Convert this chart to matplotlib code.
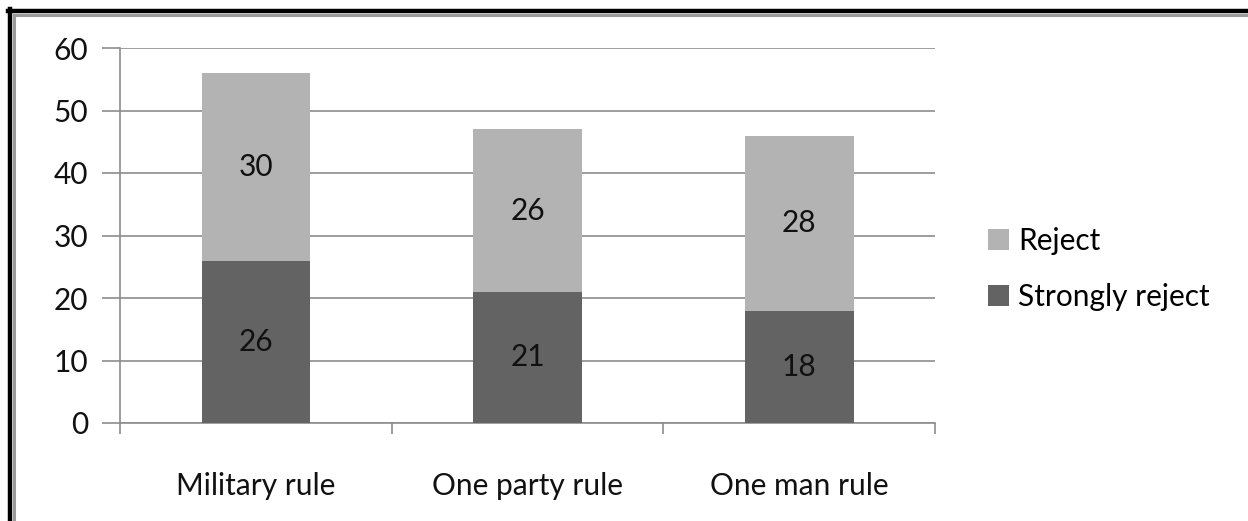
import matplotlib
matplotlib.use("Agg")
import matplotlib.pyplot as plt
from matplotlib.lines import Line2D
from matplotlib.patches import Patch
import numpy as np

categories = ["Military rule", "One party rule", "One man rule"]
strongly_reject = [26, 21, 18]
reject = [30, 26, 28]
yticks = [0, 10, 20, 30, 40, 50, 60]

plt.rcParams['font.family'] = ['Lato', 'DejaVu Sans']

fig = plt.figure(figsize=(12.48, 5.21), dpi=100)
ax = fig.add_axes([120/1248, 1-423/521, (935-120)/1248, (423-48)/521])

dark = "#636363"
light = "#b3b3b3"
grid = "#8c8c8c"
fs = 21.5

x = np.arange(len(categories))
w = 0.4
ax.bar(x, strongly_reject, w, color=dark, zorder=3, label="Strongly reject")
ax.bar(x, reject, w, bottom=strongly_reject, color=light, zorder=3, label="Reject")

for i in range(len(categories)):
    ax.text(x[i], strongly_reject[i]/2, str(strongly_reject[i]), ha='center', va='center',
            fontsize=fs, color='#111111', zorder=4)
    ax.text(x[i], strongly_reject[i] + reject[i]/2, str(reject[i]), ha='center', va='center',
            fontsize=fs, color='#111111', zorder=4)

ax.set_xlim(-0.5, 2.5)
ax.set_ylim(0, 60)
ax.set_yticks(yticks)
ax.set_yticklabels([str(v) for v in yticks], fontsize=fs, color='#111111')
ax.yaxis.grid(True, color=grid, linewidth=1.2, zorder=0)
ax.tick_params(axis='y', length=13, color=grid, width=1.2, pad=10)

ax.set_xticks(x)
ax.set_xticklabels(categories, fontsize=fs, color='#111111')
ax.tick_params(axis='x', which='major', length=0, pad=35)
ax.set_xticks([-0.5, 0.5, 1.5, 2.5], minor=True)
ax.tick_params(axis='x', which='minor', length=8, color=grid, width=1.2)

for s in ['top', 'right']:
    ax.spines[s].set_visible(False)
for s in ['left', 'bottom']:
    ax.spines[s].set_color(grid)
    ax.spines[s].set_linewidth(1.2)

handles = [Patch(facecolor=light, label="Reject"), Patch(facecolor=dark, label="Strongly reject")]
fig.legend(handles=handles, loc='center left', bbox_to_anchor=(973/1248, 1-269/521),
           frameon=False, fontsize=fs, handlelength=0.7, handleheight=0.7,
           handletextpad=0.3, labelspacing=0.95, borderpad=0)

# frame lines (black + gray double border on top and left)
fig.add_artist(Line2D([8/1248, 1], [1-11/521, 1-11/521], color='black', linewidth=3.2, transform=fig.transFigure))
fig.add_artist(Line2D([10/1248, 10/1248], [0, 1-9/521], color='black', linewidth=3.2, transform=fig.transFigure))
fig.add_artist(Line2D([13.5/1248, 1], [1-14.5/521, 1-14.5/521], color='#9a9a9a', linewidth=2.2, transform=fig.transFigure))
fig.add_artist(Line2D([13.5/1248, 13.5/1248], [0, 1-14.5/521], color='#9a9a9a', linewidth=2.2, transform=fig.transFigure))

fig.savefig("out.png", dpi=100)
